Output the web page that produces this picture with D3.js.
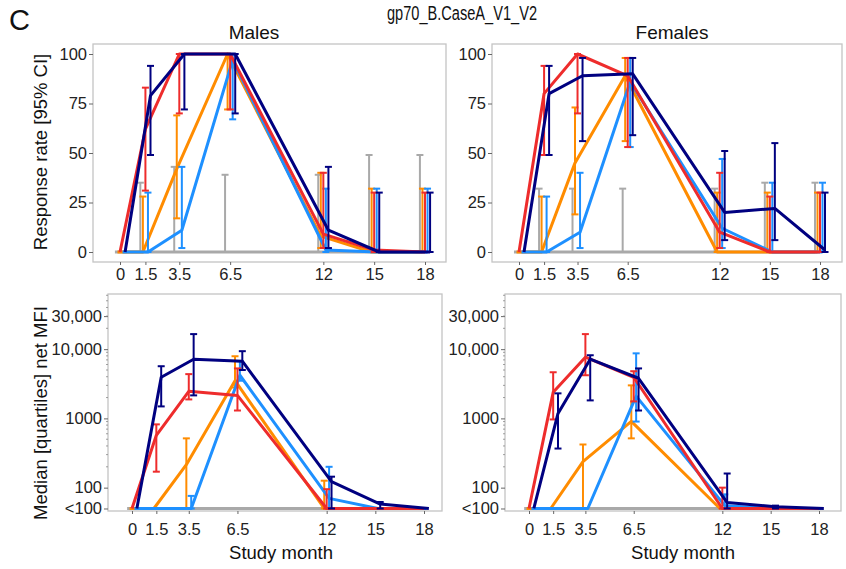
<!DOCTYPE html>
<html>
<head>
<meta charset="utf-8">
<script src="https://cdn.jsdelivr.net/npm/d3@7"></script>
<style>
body { margin: 0; background: #fff; }
svg { display: block; font-family: "Liberation Sans", Arial, sans-serif; }
</style>
</head>
<body>
<svg id="chart" width="846" height="569"></svg>
<script>
// study months on the x axis
var months = [0, 1.5, 3.5, 6.5, 12, 15, 18];
// groups: gray, orange, red, light blue, navy
var groupColors = ["#a9a9a9", "#ff8c00", "#ee2c2c", "#1e90ff", "#000080"];
var dodgeSlot = [-2, -1, 0, 1, 2];      // side-by-side order inside a month
var drawOrder = [0, 1, 3, 2, 4];        // which group is painted last

// response rate (%) with 95% CI, males
var maleRate = [
    [0, 0, 0, 0, 0, 0, 0],
    [0, 0, 42, 100, 8, 0, 0],
    [0, 62, 100, 100, 9, 1, 0],
    [0, 0, 11, 97, 1, 0, 0],
    [0, 79, 100, 100, 11, 0, 0]
];
var maleRateLo = [
    [0, 0, 0, 0, 0, 0, 0],
    [0, 0, 17, 72, 2, 0, 0],
    [0, 31, 70, 72, 2, 0, 0],
    [0, 0, 2, 67, 0, 0, 0],
    [0, 49, 72, 70, 2, 0, 0]
];
var maleRateHi = [
    [0, 35, 43, 39, 39, 49, 49],
    [0, 28, 69, 100, 40, 32, 32],
    [0, 83, 100, 100, 40, 30, 30],
    [0, 30, 43, 100, 32, 32, 32],
    [0, 94, 100, 100, 43, 30, 30]
];

// response rate (%) with 95% CI, females
var femaleRate = [
    [0, 0, 0, 0, 0, 0, 0],
    [0, 0, 45, 89, 0, 0, 0],
    [0, 80, 100, 89, 10, 0, 0],
    [0, 0, 10, 86, 12, 0, 0],
    [0, 80, 89, 90, 20, 22, 1]
];
var femaleRateLo = [
    [0, 0, 0, 0, 0, 0, 0],
    [0, 0, 19, 56, 0, 0, 0],
    [0, 49, 70, 53, 2, 0, 0],
    [0, 0, 2, 53, 2, 0, 0],
    [0, 49, 56, 59, 6, 6, 0]
];
var femaleRateHi = [
    [0, 32, 32, 32, 32, 35, 35],
    [0, 28, 73, 98, 30, 30, 30],
    [0, 94, 100, 98, 40, 28, 30],
    [0, 28, 40, 98, 47, 35, 35],
    [0, 94, 98, 98, 51, 55, 30]
];

// median net MFI with quartiles ("<100" is plotted at 50), males
var maleMfi = [
    [50, 50, 50, 50, 50, 50, 50],
    [50, 50, 215, 3500, 50, 50, 50],
    [50, 570, 2460, 2150, 50, 50, 50],
    [50, 50, 50, 4200, 70, 50, 50],
    [50, 3930, 7160, 6700, 122, 58, 50]
];
var maleMfiQ1 = [
    [50, 50, 50, 50, 50, 50, 50],
    [50, 50, 50, 2800, 50, 50, 50],
    [50, 170, 1880, 1300, 50, 50, 50],
    [50, 50, 50, 3500, 50, 50, 50],
    [50, 1490, 2150, 5000, 50, 50, 50]
];
var maleMfiQ3 = [
    [50, 50, 50, 50, 50, 50, 50],
    [50, 50, 515, 7900, 126, 50, 50],
    [50, 820, 4360, 5270, 95, 50, 50],
    [50, 50, 76, 6700, 200, 50, 50],
    [50, 5670, 16500, 9350, 144, 62, 50]
];

// median net MFI with quartiles, females
var femaleMfi = [
    [50, 50, 50, 50, 50, 50, 50],
    [50, 50, 238, 905, 50, 50, 50],
    [50, 2380, 7650, 3930, 50, 50, 50],
    [50, 50, 50, 2100, 55, 50, 50],
    [50, 1180, 7160, 3800, 61, 53, 50]
];
var femaleMfiQ1 = [
    [50, 50, 50, 50, 50, 50, 50],
    [50, 50, 50, 515, 50, 50, 50],
    [50, 966, 4200, 1760, 50, 50, 50],
    [50, 50, 50, 900, 50, 50, 50],
    [50, 367, 1820, 1300, 50, 50, 50]
];
var femaleMfiQ3 = [
    [50, 50, 50, 50, 50, 50, 50],
    [50, 50, 420, 3000, 50, 50, 50],
    [50, 4640, 16500, 4800, 100, 50, 50],
    [50, 50, 50, 8700, 80, 50, 50],
    [50, 2300, 8170, 5270, 160, 55, 50]
];

var rateTicks = [0, 25, 50, 75, 100];
var mfiTicks = [50, 100, 1000, 10000, 30000];

var svg = d3.select("#chart");
var tickFont = 16.5;

// panel boxes and where months 0 and 18 sit
var panels = [
    { left: 93, top: 44, width: 353, height: 218, x0: 120, x18: 425, kind: "rate",
      mid: maleRate, lo: maleRateLo, hi: maleRateHi, title: "Males", titleX: 254 },
    { left: 492, top: 44, width: 350, height: 218, x0: 519, x18: 820, kind: "rate",
      mid: femaleRate, lo: femaleRateLo, hi: femaleRateHi, title: "Females", titleX: 672 },
    { left: 108, top: 294, width: 334, height: 217, x0: 132, x18: 424, kind: "mfi",
      mid: maleMfi, lo: maleMfiQ1, hi: maleMfiQ3 },
    { left: 505, top: 294, width: 336, height: 217, x0: 529, x18: 819, kind: "mfi",
      mid: femaleMfi, lo: femaleMfiQ1, hi: femaleMfiQ3 }
];

function drawPanel(p) {
    var g = svg.append("g");
    var x = d3.scaleLinear().domain([0, 18]).range([p.x0, p.x18]);
    var y;
    if (p.kind === "rate") {
        y = d3.scaleLinear().domain([0, 100]).range([p.top + 208, p.top + 10]);
    } else {
        y = d3.scaleLog().domain([46, 62600]).range([p.top + p.height, p.top]);
    }
    var step = (p.x18 - p.x0) / 18 * 0.15; // dodge step in px

    g.append("rect")
        .attr("x", p.left).attr("y", p.top)
        .attr("width", p.width).attr("height", p.height)
        .attr("fill", "none").attr("stroke", "#c4c4c4").attr("stroke-width", 1.3);

    // y axis
    var yAxis = d3.axisLeft(y).tickSizeOuter(0).tickSize(4).tickPadding(2);
    if (p.kind === "rate") {
        yAxis.tickValues(rateTicks);
    } else {
        yAxis.tickValues(mfiTicks).tickFormat(function(d) {
            if (d === 50) return "<100";
            return d >= 10000 ? d3.format(",")(d) : String(d);
        });
    }
    var ya = g.append("g").attr("transform", "translate(" + p.left + ",0)").call(yAxis);
    ya.select(".domain").remove();
    ya.selectAll("line").attr("stroke", "#666");
    ya.selectAll("text").attr("font-size", tickFont).attr("fill", "#222")
        .attr("font-family", "Liberation Sans, Arial, sans-serif");

    // log minor ticks
    if (p.kind === "mfi") {
        var minor = [];
        [100, 1000, 10000].forEach(function(base) {
            for (var k = 2; k <= 9; k++) {
                if (base * k <= 60000) minor.push(base * k);
            }
        });
        g.selectAll(".minor").data(minor).enter().append("line")
            .attr("x1", p.left - 2).attr("x2", p.left)
            .attr("y1", function(d) { return y(d); })
            .attr("y2", function(d) { return y(d); })
            .attr("stroke", "#888").attr("stroke-width", 0.8);
    }

    // x axis
    var xAxis = d3.axisBottom(x).tickValues(months).tickSize(3)
        .tickPadding(p.kind === "rate" ? 3 : 9)
        .tickFormat(function(d) { return String(d); });
    var xa = g.append("g").attr("transform", "translate(0," + (p.top + p.height) + ")").call(xAxis);
    xa.select(".domain").remove();
    xa.selectAll("line").attr("stroke", "#666");
    xa.selectAll("text").attr("font-size", tickFont).attr("fill", "#222")
        .attr("font-family", "Liberation Sans, Arial, sans-serif");

    drawOrder.forEach(function(s) {
        var color = groupColors[s];
        var off = dodgeSlot[s] * step;
        var pts = months.map(function(m, i) {
            return { x: x(m) + off, mid: p.mid[s][i], lo: p.lo[s][i], hi: p.hi[s][i] };
        });

        // error bars
        var bars = pts.filter(function(d) { return d.hi > d.lo; });
        var eb = g.append("g").attr("stroke", color).attr("stroke-width", 2).attr("fill", "none");
        bars.forEach(function(d) {
            eb.append("line").attr("x1", d.x).attr("x2", d.x).attr("y1", y(d.lo)).attr("y2", y(d.hi));
            eb.append("line").attr("x1", d.x - 3.5).attr("x2", d.x + 3.5).attr("y1", y(d.lo)).attr("y2", y(d.lo));
            eb.append("line").attr("x1", d.x - 3.5).attr("x2", d.x + 3.5).attr("y1", y(d.hi)).attr("y2", y(d.hi));
        });

        // line through medians / rates
        var line = d3.line().x(function(d) { return d.x; }).y(function(d) { return y(d.mid); });
        g.append("path").datum(pts)
            .attr("d", line)
            .attr("fill", "none")
            .attr("stroke", color)
            .attr("stroke-width", 3)
            .attr("stroke-linejoin", "round");
    });

    if (p.title) {
        svg.append("text")
            .attr("x", p.titleX).attr("y", 39)
            .attr("text-anchor", "middle")
            .attr("font-size", 19).attr("fill", "#111")
            .text(p.title);
    }
}

panels.forEach(drawPanel);

// titles and axis labels
svg.append("text").attr("x", 9).attr("y", 30).attr("font-size", 29).attr("fill", "#111").text("C");
svg.append("text").attr("x", 462).attr("y", 20).attr("text-anchor", "middle")
    .attr("font-size", 19.5).attr("fill", "#111")
    .attr("textLength", 150).attr("lengthAdjust", "spacingAndGlyphs")
    .text("gp70_B.CaseA_V1_V2");

svg.append("text")
    .attr("transform", "translate(47,152) rotate(-90)")
    .attr("text-anchor", "middle").attr("font-size", 18.5).attr("fill", "#111")
    .text("Response rate [95% CI]");
svg.append("text")
    .attr("transform", "translate(47,413) rotate(-90)")
    .attr("text-anchor", "middle").attr("font-size", 18.5).attr("fill", "#111")
    .text("Median [quartiles] net MFI");

svg.append("text").attr("x", 281).attr("y", 559).attr("text-anchor", "middle")
    .attr("font-size", 18.5).attr("fill", "#111").text("Study month");
svg.append("text").attr("x", 683).attr("y", 559).attr("text-anchor", "middle")
    .attr("font-size", 18.5).attr("fill", "#111").text("Study month");
</script>
</body>
</html>
